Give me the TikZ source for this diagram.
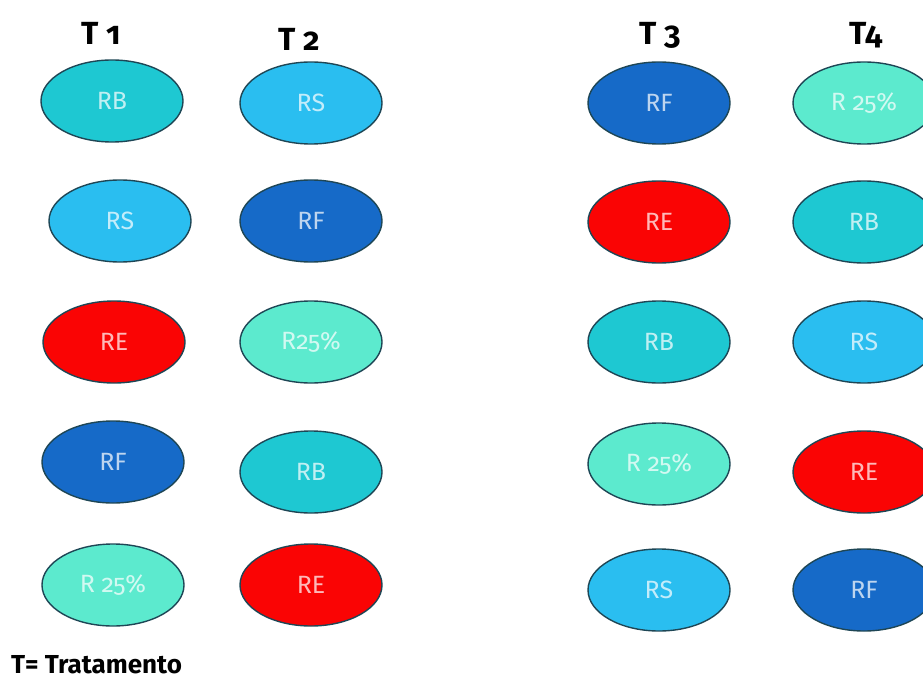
\documentclass[tikz,border=0pt]{standalone}
\usepackage{fontspec}
\setmainfont{Fira Sans}[Numbers=OldStyle]
\usetikzlibrary{shapes.geometric}

\definecolor{cRB}{RGB}{30,200,210}
\definecolor{cRS}{RGB}{42,190,240}
\definecolor{cRF}{RGB}{22,106,200}
\definecolor{cRE}{RGB}{250,4,4}
\definecolor{cRQ}{RGB}{92,234,206}
\definecolor{rim}{RGB}{30,70,85}

\tikzset{
  plot/.style={ellipse, draw=rim, line width=1.4pt, minimum width=142pt,
    minimum height=82pt, inner sep=0pt, text=white, text opacity=0.72,
    font=\fontsize{25}{25}\selectfont},
  rb/.style={plot, fill=cRB},
  rs/.style={plot, fill=cRS},
  rf/.style={plot, fill=cRF},
  re/.style={plot, fill=cRE},
  rq/.style={plot, fill=cRQ},
  head/.style={font=\fontsize{32}{32}\selectfont\bfseries, text=black, inner sep=0pt},
  legend/.style={font=\fontsize{26}{26}\selectfont\bfseries, text=black, inner sep=0pt, anchor=base west}
}

\begin{document}
\begin{tikzpicture}[x=1pt, y=-1pt]
\useasboundingbox (0,0) rectangle (923,679);
\clip (0,0) rectangle (923,679);

% column headings
\node[head] (h1) at (101,33) {T 1};
\node[head] (h2) at (299,39) {T 2};
\node[head] (h3) at (660,35) {T 3};
\node[head] (h4) at (866,35) {T4};

% T1
\node[rb] (a1) at (112,101) {RB};
\node[rs] (a2) at (120,221) {RS};
\node[re] (a3) at (114,342) {RE};
\node[rf] (a4) at (113,462) {RF};
\node[rq] (a5) at (113,585) {R 25\%};

% T2
\node[rs] (b1) at (311,103) {RS};
\node[rf] (b2) at (311,221) {RF};
\node[rq] (b3) at (311,342) {R25\%};
\node[rb] (b4) at (311,472) {RB};
\node[re] (b5) at (311,585) {RE};

% T3
\node[rf] (c1) at (659,103) {RF};
\node[re] (c2) at (659,222) {RE};
\node[rb] (c3) at (659,342) {RB};
\node[rq] (c4) at (659,464) {R 25\%};
\node[rs] (c5) at (659,590) {RS};

% T4
\node[rq] (d1) at (864,103) {R 25\%};
\node[rb] (d2) at (864,222) {RB};
\node[rs] (d3) at (864,342) {RS};
\node[re] (d4) at (864,472) {RE};
\node[rf] (d5) at (864,590) {RF};

% key
\node[legend] (key) at (11,673) {T= Tratamento};
\end{tikzpicture}
\end{document}
